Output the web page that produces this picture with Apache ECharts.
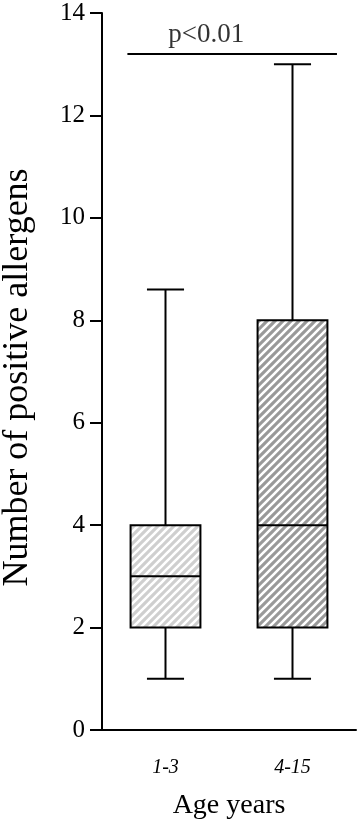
<!DOCTYPE html>
<html>
<head>
<meta charset="utf-8">
<script src="https://cdn.jsdelivr.net/npm/echarts@6/dist/echarts.min.js"></script>
<style>html,body{margin:0;padding:0;background:#fff;}#c{width:358px;height:833px;}</style>
</head>
<body>
<div id="c"></div>
<script>
// Data
const categories = ['1-3', '4-15'];
// [min, Q1, median, Q3, max]
const boxValues = [
  [1, 2, 3, 4, 8.6],
  [1, 2, 4, 8, 13]
];
const yTicks = { min: 0, max: 14, interval: 2 };
const sigLine = [[-0.3, 13.2], [1.35, 13.2]];
const sigLabel = [[0.32, 13.2, 'p<0.01']];
const xName = 'Age years';
const yName = 'Number of positive allergens';

function makePattern(bg) {
  const n = 8;
  const c = document.createElement('canvas');
  c.width = n; c.height = n;
  const g = c.getContext('2d');
  g.fillStyle = bg; g.fillRect(0, 0, n, n);
  g.strokeStyle = '#ffffff'; g.lineWidth = 2.6;
  g.beginPath();
  g.moveTo(-2, n + 2); g.lineTo(n + 2, -2);
  g.moveTo(-2, 2); g.lineTo(2, -2);
  g.moveTo(n - 2, n + 2); g.lineTo(n + 2, n - 2);
  g.stroke();
  return { type: 'pattern', image: c, repeat: 'repeat' };
}
const fills = [makePattern('#cfcfcf'), makePattern('#999999')];

const serif = '"Liberation Serif", "Times New Roman", serif';
const chart = echarts.init(document.getElementById('c'), null, { renderer: 'canvas' });
chart.setOption({
  animation: false,
  backgroundColor: '#fff',
  grid: { left: 102, right: 2, top: 13, bottom: 103, containLabel: false, outerBoundsMode: 'none' },
  xAxis: [{
    type: 'category',
    data: categories,
    boundaryGap: true,
    axisLine: { onZero: false, lineStyle: { color: '#000', width: 2 } },
    axisTick: { show: false },
    axisLabel: { color: '#000', fontFamily: serif, fontStyle: 'italic', fontSize: 20, margin: 28 },
    name: xName,
    nameLocation: 'middle',
    nameGap: 62,
    nameTextStyle: { color: '#000', fontFamily: serif, fontSize: 28 }
  }, {
    type: 'value', min: -0.5, max: 1.5, show: false
  }],
  yAxis: {
    type: 'value',
    min: yTicks.min, max: yTicks.max, interval: yTicks.interval,
    axisLine: { show: true, onZero: false, lineStyle: { color: '#000', width: 2 } },
    axisTick: { show: true, length: 12, lineStyle: { color: '#000', width: 2 } },
    splitLine: { show: false },
    axisLabel: { color: '#000', fontFamily: serif, fontSize: 25, margin: 17 },
    name: yName,
    nameLocation: 'middle',
    nameGap: 66,
    nameTextStyle: { color: '#000', fontFamily: serif, fontSize: 36, padding: [0, 12, 0, 0] }
  },
  series: [{
    type: 'custom',
    xAxisIndex: 0,
    data: boxValues.map((v, i) => [i].concat(v)),
    renderItem: function (params, api) {
      const i = api.value(0);
      const band = api.size([1, 0])[0];
      const x = api.coord([i, 0])[0];
      const half = band * 0.275;
      const cap = band * 0.146;
      const yMin = api.coord([i, api.value(1)])[1];
      const yQ1 = api.coord([i, api.value(2)])[1];
      const yMed = api.coord([i, api.value(3)])[1];
      const yQ3 = api.coord([i, api.value(4)])[1];
      const yMax = api.coord([i, api.value(5)])[1];
      const ls = { stroke: '#000', lineWidth: 2 };
      return {
        type: 'group',
        children: [
          { type: 'line', shape: { x1: x, y1: yMax, x2: x, y2: yQ3 }, style: ls },
          { type: 'line', shape: { x1: x, y1: yQ1, x2: x, y2: yMin }, style: ls },
          { type: 'line', shape: { x1: x - cap, y1: yMax, x2: x + cap, y2: yMax }, style: ls },
          { type: 'line', shape: { x1: x - cap, y1: yMin, x2: x + cap, y2: yMin }, style: ls },
          { type: 'rect', shape: { x: x - half, y: yQ3, width: 2 * half, height: yQ1 - yQ3 },
            style: { fill: fills[params.dataIndex], stroke: '#000', lineWidth: 2 } },
          { type: 'line', shape: { x1: x - half, y1: yMed, x2: x + half, y2: yMed }, style: ls }
        ]
      };
    }
  }, {
    type: 'line',
    xAxisIndex: 1,
    data: sigLine,
    symbol: 'none',
    lineStyle: { color: '#000', width: 2 },
    silent: true
  }, {
    type: 'scatter',
    xAxisIndex: 1,
    data: sigLabel,
    symbolSize: 0,
    label: {
      show: true, position: 'top', distance: 6,
      formatter: p => p.data[2],
      color: '#000', fontFamily: serif, fontSize: 27
    },
    silent: true
  }]
});
</script>
</body>
</html>
